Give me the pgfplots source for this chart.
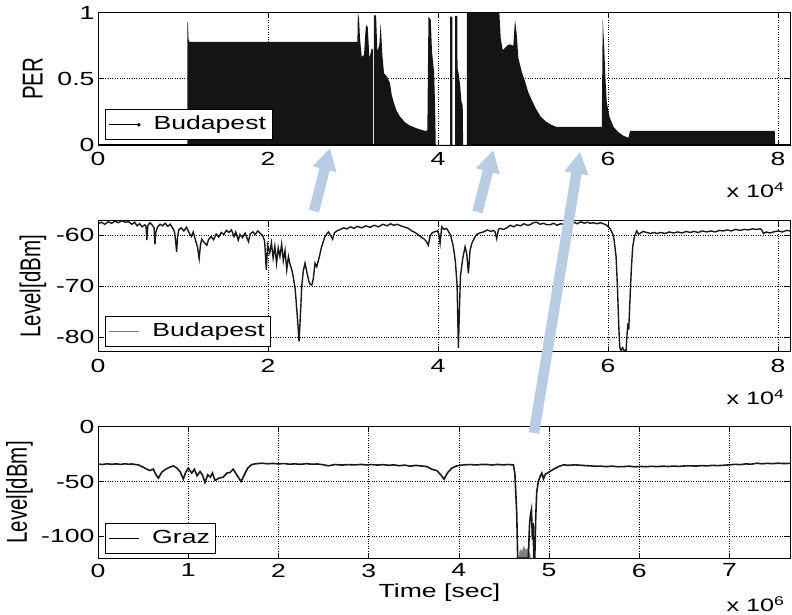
\documentclass[border=0pt]{standalone}
\usepackage{fontspec}
\setmainfont{Liberation Sans}[FakeStretch=1.4]
\newfontfamily\ylfont{Liberation Sans}
\usepackage{graphicx}
\usepackage{pgfplots}
\pgfplotsset{compat=1.18}
\usetikzlibrary{arrows.meta}
\definecolor{arrowblue}{RGB}{184,204,228}
\newcommand{\tf}{\fontsize{19}{22}\selectfont}
\newcommand{\smf}{\fontsize{18}{21}\selectfont}
\newcommand{\ylab}[1]{\scalebox{1}[1.4]{\ylfont\fontsize{20.5}{24}\selectfont #1}}
\pgfplotsset{panel/.style={
  scale only axis, width=692pt, xmin=0,
  clip mode=individual,
  axis line style={black, line width=0.9pt},
  grid=major, major grid style={black, dotted, line width=0.7pt},
  tick align=inside, major tick length=5pt, tick style={black, line width=0.7pt},
  ticklabel style={font=\tf},
  xticklabel style={yshift=-4pt},
  legend cell align=left,
  legend style={anchor=south west, draw=black, line width=0.9pt, fill=white, font=\tf,
    inner xsep=3pt, inner ysep=2pt, column sep=10pt,
    nodes={inner xsep=3pt, inner ysep=4pt, text height=14pt, text depth=4pt}},
  ylabel style={anchor=center},
}}
\begin{document}
\begin{tikzpicture}[x=1pt,y=1pt]
\useasboundingbox (0pt,0pt) rectangle (792pt,615pt);
% ---------------- top: PER ----------------
\begin{axis}[panel, at={(98pt,470pt)}, anchor=south west, height=132.3pt,
  ymin=0, ymax=1, xmax=8.14,
  xtick={0,2,4,6,8}, xticklabels={0,2,4,6,8},
  ytick={0,0.5,1}, yticklabels={0,0.5,1},
  ylabel={\ylab{PER}}, ylabel style={at={(axis description cs:-0.0944,0.5)}},
  legend style={at={(axis description cs:0.0101,0.036)}}]
\addplot[fill=black!92, draw=none, forget plot] coordinates {
(0,0)(1.051,0)(1.051,0.93)(1.058,0.92)(1.065,0.80)(1.075,0.78)(3.051,0.78)(3.057,1.0)(3.07,0.96)
(3.082,0.806)(3.102,0.667)(3.129,0.68)(3.145,0.85)(3.153,0.907)(3.173,0.89)(3.185,0.75)(3.192,0.655)
(3.22,0.73)(3.234,0.72)(3.234,0)(3.246,0)(3.246,0.98)(3.271,0.98)(3.286,0.705)(3.31,0.76)(3.325,0.92)
(3.345,0.68)(3.365,0.54)(3.396,0.52)(3.435,0.466)(3.455,0.378)(3.482,0.315)(3.514,0.257)(3.553,0.214)
(3.612,0.171)(3.671,0.146)(3.749,0.126)(3.847,0.106)(3.874,0.11)(3.887,0.97)(3.914,0.945)(3.929,0.705)
(3.953,0.554)(3.965,0.30)(3.973,0)(4.141,0)(4.141,0.97)(4.168,0.97)(4.168,0)(4.20,0)(4.20,0.975)
(4.227,0.975)(4.229,0.58)(4.245,0.53)(4.26,0.45)(4.275,0.33)(4.29,0.30)(4.295,0)(4.34,0)(4.34,1.0)
(4.721,1.0)(4.737,0.806)(4.761,0.718)(4.788,0.735)(4.82,0.755)(4.847,0.76)(4.886,0.75)(4.895,0.85)
(4.906,0.945)(4.926,0.83)(4.945,0.655)(4.985,0.554)(5.024,0.478)(5.062,0.398)(5.102,0.34)(5.153,0.272)
(5.208,0.214)(5.271,0.176)(5.337,0.151)(5.396,0.136)(5.926,0.136)(5.937,0.945)(5.953,0.755)(5.969,0.504)
(5.984,0.327)(6.016,0.214)(6.063,0.138)(6.122,0.096)(6.18,0.07)(6.239,0.055)(6.259,0.106)(7.96,0.106)(7.965,0)
} \closedcycle;
\addplot[black, line width=2pt, forget plot] coordinates {(0,0)(3.973,0)};
\addplot[black, line width=2pt, forget plot] coordinates {(4.34,0)(8.14,0)};
\addlegendimage{legend image code/.code={\draw[black, line width=0.8pt] (0pt,0pt) -- (30pt,0pt); \fill[black] (30pt,0pt) circle (1.3pt);}}
\addlegendentry{Budapest}
\end{axis}
% ---------------- middle: Budapest level ----------------
\begin{axis}[panel, at={(98pt,263.3pt)}, anchor=south west, height=131pt,
  ymin=-82.8, ymax=-57.2, xmax=8.14,
  xtick={0,2,4,6,8}, xticklabels={0,2,4,6,8},
  ytick={-80,-70,-60}, yticklabels={-80,-70,-60},
  ylabel={\ylab{Level[dBm]}}, ylabel style={at={(axis description cs:-0.094,0.5)}},
  legend style={at={(axis description cs:0.0101,0.034)}}]
\addplot[black!90, line width=1.4pt, forget plot] coordinates {
(0.00,-57.8)(0.04,-57.5)(0.08,-57.9)(0.12,-57.4)(0.16,-57.7)(0.20,-57.3)(0.24,-57.6)(0.28,-57.2)(0.32,-57.5)
(0.36,-57.4)(0.40,-57.9)(0.43,-57.5)(0.46,-58.2)(0.49,-57.8)(0.52,-58.4)(0.55,-58.0)(0.565,-58.3)(0.575,-61.0)
(0.585,-58.2)(0.61,-57.6)(0.64,-58.1)(0.66,-58.6)(0.67,-61.8)(0.68,-59.5)(0.70,-58.4)(0.73,-57.9)(0.76,-58.2)
(0.79,-57.7)(0.82,-58.3)(0.85,-57.9)(0.88,-58.7)(0.90,-59.4)(0.915,-61.5)(0.925,-63.3)(0.935,-60.5)(0.95,-59.0)
(0.98,-58.6)(1.01,-59.2)(1.04,-58.5)(1.07,-59.5)(1.10,-60.3)(1.12,-59.4)(1.15,-61.2)(1.17,-62.3)(1.19,-64.6)
(1.205,-62.0)(1.22,-60.8)(1.25,-61.5)(1.28,-62.0)(1.30,-60.9)(1.33,-60.3)(1.36,-60.9)(1.39,-59.8)(1.42,-60.4)
(1.45,-59.5)(1.48,-59.9)(1.51,-59.1)(1.54,-59.5)(1.57,-59.0)(1.60,-60.3)(1.62,-59.4)(1.65,-61.0)(1.67,-59.9)
(1.70,-60.5)(1.73,-59.6)(1.77,-61.3)(1.79,-59.8)(1.82,-59.4)(1.85,-59.9)(1.88,-59.2)(1.91,-59.7)(1.94,-60.2)
(1.96,-61.2)(1.98,-66.8)(1.995,-62.0)(2.02,-63.5)(2.04,-61.5)(2.06,-64.5)(2.08,-62.2)(2.10,-65.5)(2.12,-62.5)
(2.14,-64.2)(2.16,-61.8)(2.18,-65.0)(2.20,-63.0)(2.22,-66.8)(2.24,-64.2)(2.26,-65.8)(2.28,-66.8)(2.30,-68.5)
(2.32,-70.7)(2.345,-76.0)(2.365,-80.8)(2.385,-74.3)(2.396,-70.1)(2.415,-67.0)(2.435,-65.5)(2.46,-67.5)
(2.48,-69.0)(2.494,-69.6)(2.514,-69.8)(2.533,-68.5)(2.553,-65.5)(2.573,-66.2)(2.604,-64.2)(2.63,-62.3)
(2.67,-60.3)(2.71,-59.4)(2.73,-59.9)(2.76,-60.8)(2.78,-59.6)(2.81,-59.2)(2.85,-58.9)(2.89,-58.6)(2.93,-58.8)
(2.97,-58.4)(3.01,-58.7)(3.05,-58.3)(3.10,-58.6)(3.15,-58.2)(3.20,-58.5)(3.25,-58.1)(3.30,-58.4)(3.35,-57.9)
(3.40,-58.2)(3.44,-57.8)(3.48,-58.1)(3.52,-57.9)(3.56,-58.2)(3.60,-58.4)(3.65,-58.7)(3.69,-59.2)(3.73,-59.5)
(3.77,-60.0)(3.80,-60.4)(3.83,-60.7)(3.86,-61.2)(3.886,-62.0)(3.906,-60.2)(3.93,-59.6)(3.953,-59.4)(3.99,-59.2)
(4.01,-59.8)(4.024,-61.6)(4.043,-58.4)(4.07,-58.9)(4.10,-58.7)(4.13,-59.5)(4.15,-60.2)(4.18,-62.3)(4.204,-65.2)
(4.224,-69.8)(4.239,-82.1)(4.251,-75.0)(4.263,-68.1)(4.29,-64.6)(4.318,-62.3)(4.337,-63.6)(4.357,-67.5)
(4.376,-63.0)(4.40,-61.5)(4.416,-61.0)(4.44,-60.2)(4.455,-59.9)(4.49,-59.6)(4.533,-59.4)(4.58,-59.0)(4.62,-59.3)
(4.651,-59.1)(4.67,-59.4)(4.69,-60.7)(4.71,-58.9)(4.729,-58.7)(4.77,-58.9)(4.808,-58.6)(4.85,-58.1)(4.89,-58.4)
(4.926,-58.0)(4.97,-58.2)(5.01,-57.8)(5.05,-58.1)(5.082,-58.0)(5.12,-57.6)(5.161,-57.5)(5.20,-57.9)(5.24,-57.7)
(5.28,-58.0)(5.318,-58.0)(5.36,-57.7)(5.40,-58.1)(5.44,-57.8)(5.474,-57.9)(5.52,-57.6)(5.56,-57.9)(5.60,-57.5)
(5.64,-57.8)(5.68,-57.4)(5.72,-57.7)(5.76,-57.5)(5.788,-57.7)(5.83,-57.6)(5.87,-57.8)(5.91,-57.6)(5.945,-57.8)
(5.975,-58.0)(6.004,-58.4)(6.025,-58.8)(6.043,-59.4)(6.06,-60.0)(6.071,-61.0)(6.094,-64.2)(6.11,-70.1)
(6.126,-77.9)(6.137,-81.8)(6.149,-82.6)(6.17,-82.0)(6.19,-82.6)(6.212,-82.6)(6.224,-79.2)(6.235,-77.2)
(6.243,-78.5)(6.259,-72.0)(6.275,-66.2)(6.29,-62.3)(6.31,-60.3)(6.337,-59.2)(6.36,-59.8)(6.376,-59.7)
(6.41,-59.3)(6.455,-59.5)(6.50,-59.7)(6.54,-59.5)(6.573,-59.7)(6.62,-59.5)(6.67,-59.7)(6.72,-59.4)(6.769,-59.6)
(6.82,-59.4)(6.87,-59.6)(6.92,-59.3)(6.965,-59.5)(7.01,-59.3)(7.06,-59.5)(7.11,-59.2)(7.16,-59.4)(7.21,-59.2)
(7.26,-59.4)(7.31,-59.1)(7.357,-59.2)(7.40,-59.0)(7.45,-59.2)(7.50,-58.9)(7.553,-59.1)(7.60,-58.9)(7.65,-59.0)
(7.70,-58.8)(7.749,-58.9)(7.79,-58.8)(7.808,-59.0)(7.827,-59.7)(7.86,-59.4)(7.90,-59.6)(7.945,-59.4)(8.00,-59.2)
(8.05,-59.4)(8.10,-59.1)(8.14,-59.2)};
\addlegendimage{legend image code/.code={\draw[gray, line width=1pt] (0pt,0pt) -- (30pt,0pt);}}
\addlegendentry{Budapest}
\end{axis}
% ---------------- bottom: Graz level ----------------
\begin{axis}[panel, at={(98pt,56.7pt)}, anchor=south west, height=131.6pt,
  ymin=-120, ymax=0, xmax=7.67,
  xtick={0,1,2,3,4,5,6,7}, xticklabels={0,1,2,3,4,5,6,7},
  xticklabel style={yshift=2pt},
  ytick={-100,-50,0}, yticklabels={-100,-50,0},
  ylabel={\ylab{Level[dBm]}}, ylabel style={at={(axis description cs:-0.1134,0.5)}},
  legend style={at={(axis description cs:0.0101,0.033)}}]
\addplot[fill=gray, draw=gray, forget plot] coordinates {
(4.66,-120)(4.68,-112)(4.70,-114)(4.72,-109)(4.74,-113)(4.76,-111)(4.78,-115)(4.80,-120)};
\addplot[black!90, line width=1.6pt, forget plot] coordinates {
(0.00,-34.0)(0.05,-34.5)(0.10,-33.8)(0.15,-34.3)(0.20,-33.9)(0.25,-34.4)(0.30,-33.8)(0.336,-34.2)(0.38,-34.0)
(0.42,-34.6)(0.447,-34.8)(0.49,-36.5)(0.521,-37.8)(0.55,-39.0)(0.576,-40.0)(0.613,-38.6)(0.643,-43.9)
(0.669,-46.9)(0.69,-44.0)(0.706,-41.5)(0.75,-38.8)(0.798,-36.8)(0.835,-35.8)(0.873,-37.6)(0.909,-40.9)
(0.946,-47.8)(0.972,-41.5)(1.001,-37.8)(1.039,-42.3)(1.068,-38.8)(1.098,-44.8)(1.131,-40.9)(1.157,-43.9)
(1.186,-50.9)(1.216,-43.9)(1.245,-46.0)(1.268,-42.3)(1.297,-49.0)(1.341,-46.9)(1.389,-46.0)(1.427,-42.3)
(1.463,-41.8)(1.50,-38.8)(1.538,-43.9)(1.585,-50.0)(1.622,-43.9)(1.659,-37.8)(1.704,-34.5)(1.75,-33.8)
(1.815,-33.3)(1.88,-33.8)(1.94,-33.5)(1.999,-33.9)(2.06,-33.6)(2.12,-34.2)(2.184,-33.9)(2.25,-34.3)(2.31,-33.7)
(2.369,-34.2)(2.43,-34.0)(2.49,-34.6)(2.553,-35.7)(2.627,-34.5)(2.70,-35.0)(2.77,-34.6)(2.849,-34.8)(2.92,-34.4)
(2.98,-34.9)(3.034,-34.5)(3.10,-35.0)(3.16,-34.6)(3.22,-35.2)(3.28,-34.8)(3.34,-35.6)(3.40,-35.0)(3.46,-36.0)
(3.52,-35.3)(3.57,-35.7)(3.644,-36.3)(3.70,-38.8)(3.755,-40.0)(3.80,-43.9)(3.836,-47.9)(3.872,-42.3)
(3.921,-37.8)(3.977,-35.7)(4.05,-34.8)(4.12,-34.5)(4.19,-34.9)(4.25,-34.4)(4.309,-34.5)(4.37,-34.9)(4.43,-34.4)
(4.49,-34.8)(4.55,-34.5)(4.604,-34.8)(4.62,-42.3)(4.63,-59.0)(4.641,-78.8)(4.652,-120)(4.77,-120)(4.782,-90.9)
(4.793,-80.3)(4.804,-75.7)(4.815,-103)(4.823,-88)(4.83,-120)(4.841,-120)(4.852,-81.8)(4.863,-59.0)(4.881,-50.0)
(4.90,-45.5)(4.919,-42.3)(4.937,-47.5)(4.956,-43.5)(4.993,-41.6)(5.048,-38.8)(5.103,-36.4)(5.159,-34.8)
(5.22,-35.2)(5.28,-34.8)(5.344,-35.1)(5.40,-35.5)(5.455,-35.7)(5.52,-36.1)(5.565,-35.9)(5.63,-36.4)(5.70,-36.0)
(5.76,-36.5)(5.824,-36.4)(5.89,-36.0)(5.95,-36.6)(6.01,-36.2)(6.07,-36.5)(6.13,-36.1)(6.194,-36.4)(6.26,-36.0)
(6.32,-36.3)(6.38,-35.9)(6.44,-36.2)(6.50,-35.8)(6.563,-35.7)(6.63,-35.9)(6.69,-35.5)(6.75,-35.7)(6.81,-35.3)
(6.87,-35.5)(6.933,-35.2)(7.00,-34.8)(7.06,-34.3)(7.12,-34.6)(7.18,-33.9)(7.24,-34.2)(7.303,-33.3)(7.36,-33.8)
(7.42,-33.4)(7.48,-33.7)(7.54,-33.3)(7.60,-33.6)(7.653,-33.5)(7.67,-33.4)};
\addlegendimage{legend image code/.code={\draw[black, line width=0.8pt] (0pt,0pt) -- (30pt,0pt);}}
\addlegendentry{Graz}
\end{axis}
% ---------------- annotations ----------------
\node[anchor=base east, font=\smf] at (788pt,417pt) {x 10\textsuperscript{4}};
\node[anchor=base east, font=\smf] at (788pt,210pt) {x 10\textsuperscript{4}};
\node[anchor=base east, font=\smf] at (788pt,3pt) {x 10\textsuperscript{6}};
\node[anchor=base, font=\tf] at (439.5pt,17pt) {Time [sec]};
\draw[arrowblue, line width=10.5pt, -{Triangle[width=23pt,length=22pt]}] (314pt,404pt) -- (330pt,467pt);
\draw[arrowblue, line width=10.5pt, -{Triangle[width=23pt,length=22pt]}] (477.5pt,403pt) -- (493.3pt,465pt);
\draw[arrowblue, line width=10.5pt, -{Triangle[width=23pt,length=22pt]}] (534pt,182pt) -- (580pt,463.3pt);
\end{tikzpicture}
\end{document}
